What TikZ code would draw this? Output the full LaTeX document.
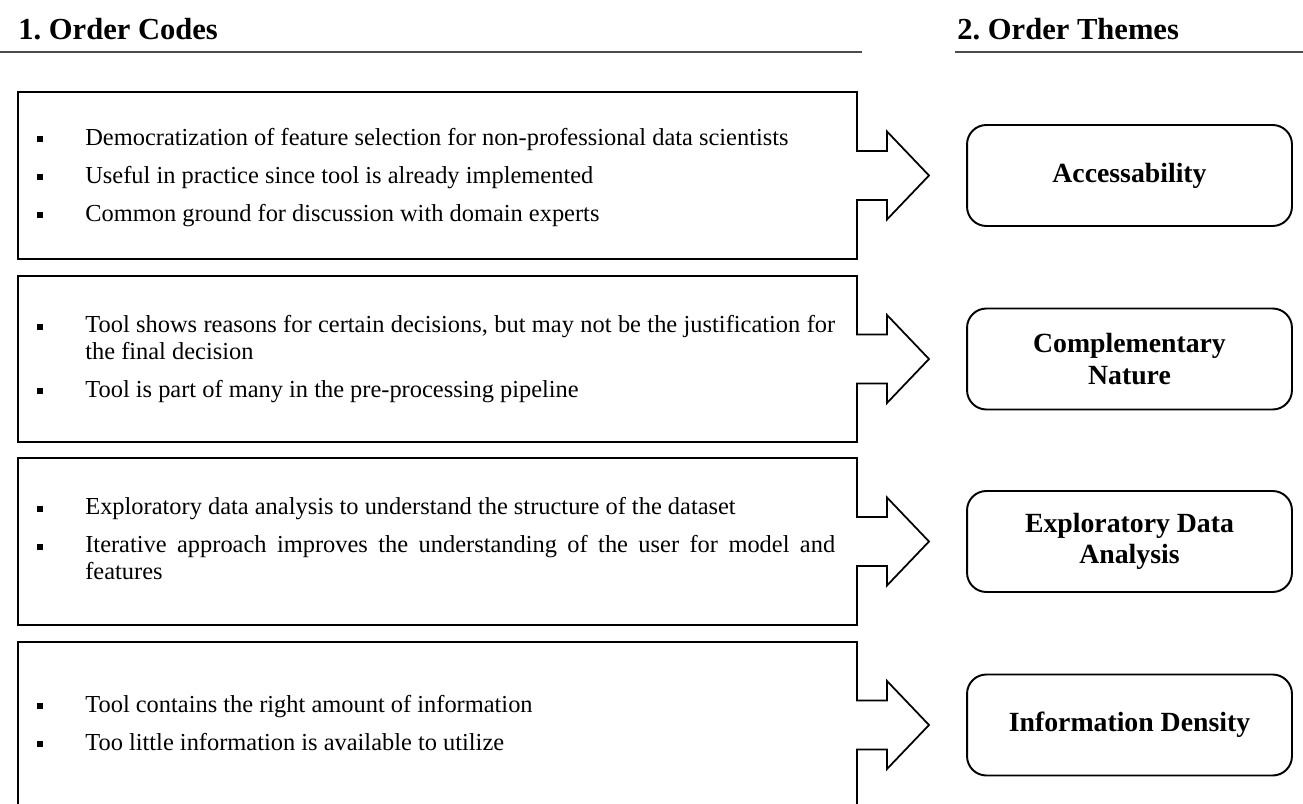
\documentclass[tikz,border=0pt]{standalone}
\usepackage{fontspec}
\setmainfont{Liberation Serif}
\usetikzlibrary{positioning}

%vineta cuadrada
\newcommand{\punto}{\rule[0.3ex]{3.4pt}{3.4pt}}
%lista de codigos: vineta y texto justificado
\newenvironment{codelist}{\hyphenpenalty=10000
  \begin{tabular}{@{}p{0.96cm}@{}p{15cm}@{}}}{\end{tabular}}

\tikzset{
  codebox/.style={line width=1pt, line join=miter},
  codetext/.style={anchor=west, inner sep=0pt, font=\fontsize{13.9}{15.3}\selectfont},
  themebox/.style={draw, line width=1.1pt, rounded corners=11pt, minimum width=6.5cm,
    minimum height=2.02cm, align=center, font=\fontsize{15.8}{18}\selectfont\bfseries},
  header/.style={anchor=base west, inner sep=0pt, font=\fontsize{17.4}{20}\selectfont\bfseries}
}

\begin{document}
\begin{tikzpicture}[x=0.02cm, y=-0.02cm]
\clip (0,0) rectangle (1303,804);

%Titulos y lineas de encabezado
\node[header] (codes) at (18,40) {1.\ Order Codes};
\node[header] (themes) at (957,40) {2.\ Order Themes};
\draw [line width=1.3pt, gray!60!black] (0,52) -- (862,52);
\draw [line width=1.3pt, gray!60!black] (955,52) -- (1303,52);

%Cajas de codigos con flecha a la derecha
\foreach \t/\b/\c in {92/259/175.5, 276/442/359, 458/625/541.5, 642/830/725}
  \draw [codebox] (857,\c-24.5) -- (857,\t) -- (18,\t) -- (18,\b) -- (857,\b)
    -- (857,\c+24.5) -- (887,\c+24.5) -- (887,\c+44) -- (929,\c)
    -- (887,\c-44) -- (887,\c-24.5) -- cycle;

%Textos de los codigos
\node[codetext] (code1) at (37,178) {\begin{codelist}
  \punto & Democratization of feature selection for non-professional data scientists \\[6.3pt]
  \punto & Useful in practice since tool is already implemented \\[6.3pt]
  \punto & Common ground for discussion with domain experts
\end{codelist}};
\node[codetext] (code2) at (37,360) {\begin{codelist}
  \punto & Tool shows reasons for certain decisions, but may not be the justification for\linebreak the final decision \\[6.3pt]
  \punto & Tool is part of many in the pre-processing pipeline
\end{codelist}};
\node[codetext] (code3) at (37,542) {\begin{codelist}
  \punto & Exploratory data analysis to understand the structure of the dataset \\[6.3pt]
  \punto & Iterative approach improves the understanding of the user for model and\linebreak features
\end{codelist}};
\node[codetext] (code4) at (37,726) {\begin{codelist}
  \punto & Tool contains the right amount of information \\[6.3pt]
  \punto & Too little information is available to utilize
\end{codelist}};

%Cajas de temas
\node[themebox] (theme1) at (1129.5,175.5) {Accessability};
\node[themebox] (theme2) at (1129.5,359) {Complementary\\Nature};
\node[themebox] (theme3) at (1129.5,541.5) {Exploratory Data\\Analysis};
\node[themebox] (theme4) at (1129.5,725) {Information Density};
\end{tikzpicture}
\end{document}
